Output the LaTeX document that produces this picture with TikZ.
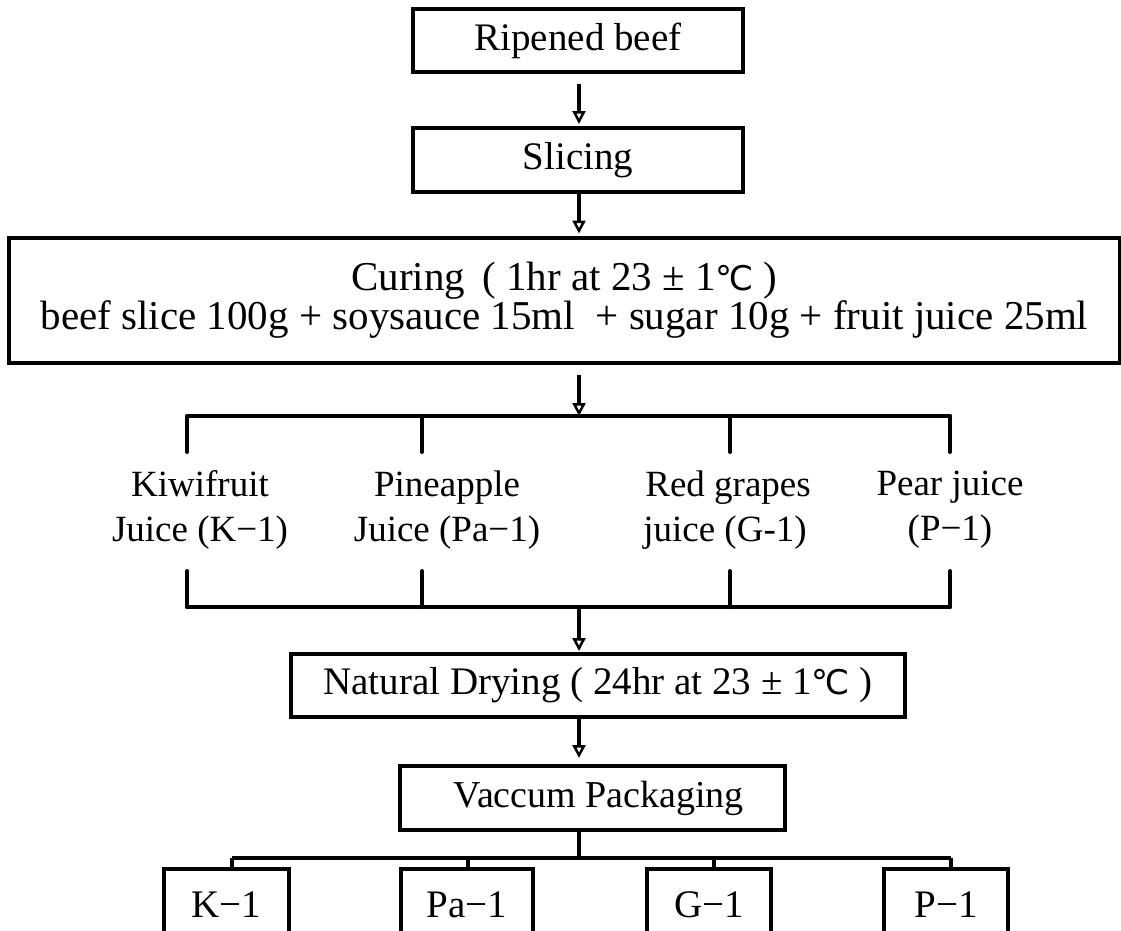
\documentclass[tikz,border=0pt]{standalone}
\usepackage{fontspec}
\setmainfont{Liberation Serif}
\newfontfamily\symfont{DejaVu Sans}
\usetikzlibrary{arrows.meta}
\newcommand{\degC}{{\symfont\fontsize{34}{34}\selectfont ℃}}
\begin{document}
\begin{tikzpicture}[x=1pt,y=-1pt,
  every node/.style={font=\fontsize{39}{42}\selectfont, inner sep=0pt},
  box/.style={draw, line width=4pt, rectangle, align=center},
  conn/.style={line width=4pt},
  arr/.style={line width=4pt, -{Triangle[open, length=13pt, width=13pt, line width=2.5pt]}},
  lbl/.style={align=center, font=\fontsize{37}{45}\selectfont}
]
\path[use as bounding box] (0,0) rectangle (1121,930);
\clip (0,0) rectangle (1121,930);
\fill[white] (0,0) rectangle (1121,930);

% main boxes
\node[box, minimum width=330pt, minimum height=63pt] (ripe) at (578,40.5) {Ripened beef};
\node[box, minimum width=330pt, minimum height=64pt] (slic) at (578,160) {Slicing};
\node[box, minimum width=1111pt, minimum height=125pt, font=\fontsize{41}{37}\selectfont] (cur) at (564.5,300)
  {Curing \,( 1hr at 23 ± 1\degC\ )\\beef slice 100g + soysauce 15ml \ + sugar 10g + fruit juice 25ml};
\node[box, minimum width=614pt, minimum height=63pt] (nat) at (598,685.5) {Natural Drying ( 24hr at 23 ± 1\degC\ )};
\node[box, minimum width=385pt, minimum height=64pt, font=\fontsize{38}{42}\selectfont] (vac) at (592.5,798) {\,\,Vaccum Packaging};

% juice labels
\node[lbl] (kiwi) at (200,510) {Kiwifruit\\Juice (K−1)};
\node[lbl] (pine) at (447,510) {Pineapple\\Juice (Pa−1)};
\node[lbl] (grape) at (725,510) {\,Red grapes\\juice (G-1)};
\node[lbl] (pear) at (950,510) {Pear juice\\(P−1)};

% bottom boxes
\node[box, minimum width=125pt, minimum height=72pt] (k) at (226.5,905) {K−1};
\node[box, minimum width=132pt, minimum height=72pt] (pa) at (467,905) {Pa−1};
\node[box, minimum width=124pt, minimum height=72pt] (g) at (709,905) {G−1};
\node[box, minimum width=124pt, minimum height=72pt] (p) at (946,905) {P−1};

% coordinates
\coordinate (b1) at (579,416);
\coordinate (t1) at (187,416);
\coordinate (t2) at (422,416);
\coordinate (t3) at (730,416);
\coordinate (t4) at (950,416);
\coordinate (s1) at (187,452);
\coordinate (s2) at (422,452);
\coordinate (s3) at (730,452);
\coordinate (s4) at (950,452);
\coordinate (u1) at (187,571);
\coordinate (u2) at (422,571);
\coordinate (u3) at (730,571);
\coordinate (u4) at (950,571);
\coordinate (v1) at (187,607);
\coordinate (v2) at (422,607);
\coordinate (v3) at (730,607);
\coordinate (v4) at (950,607);
\coordinate (b2) at (579,607);
\coordinate (b3) at (579,858);
\coordinate (c1) at (232,858);
\coordinate (c2) at (468,858);
\coordinate (c3) at (714,858);
\coordinate (c4) at (951,858);

% arrows
\draw[arr] ([yshift=-10pt]ripe.south -| b1) -- ([yshift=2pt]slic.north -| b1);
\draw[arr] (slic.south -| b1) -- ([yshift=2pt]cur.north -| b1);
\draw[arr] ([yshift=-10pt]cur.south -| b1) -- (b1);

% top bar and ticks
\draw[conn, line cap=round] (t1) -- (t4);
\draw[conn, line cap=round] (t1) -- (s1);
\draw[conn, line cap=round] (t2) -- (s2);
\draw[conn, line cap=round] (t3) -- (s3);
\draw[conn, line cap=round] (t4) -- (s4);
% lower bar and ticks
\draw[conn, line cap=round] (v1) -- (v4);
\draw[conn, line cap=round] (u1) -- (v1);
\draw[conn, line cap=round] (u2) -- (v2);
\draw[conn, line cap=round] (u3) -- (v3);
\draw[conn, line cap=round] (u4) -- (v4);

\draw[arr] (b2) -- ([yshift=1pt]nat.north -| b2);
\draw[arr] (nat.south -| b2) -- ([yshift=6pt]vac.north -| b2);

% packaging bar
\draw[conn] (vac.south -| b3) -- (b3);
\draw[conn] (c1) -- (c4);
\draw[conn] (c1) -- (k.north -| c1);
\draw[conn] (c2) -- (pa.north -| c2);
\draw[conn] (c3) -- (g.north -| c3);
\draw[conn] (c4) -- (p.north -| c4);
\end{tikzpicture}
\end{document}
